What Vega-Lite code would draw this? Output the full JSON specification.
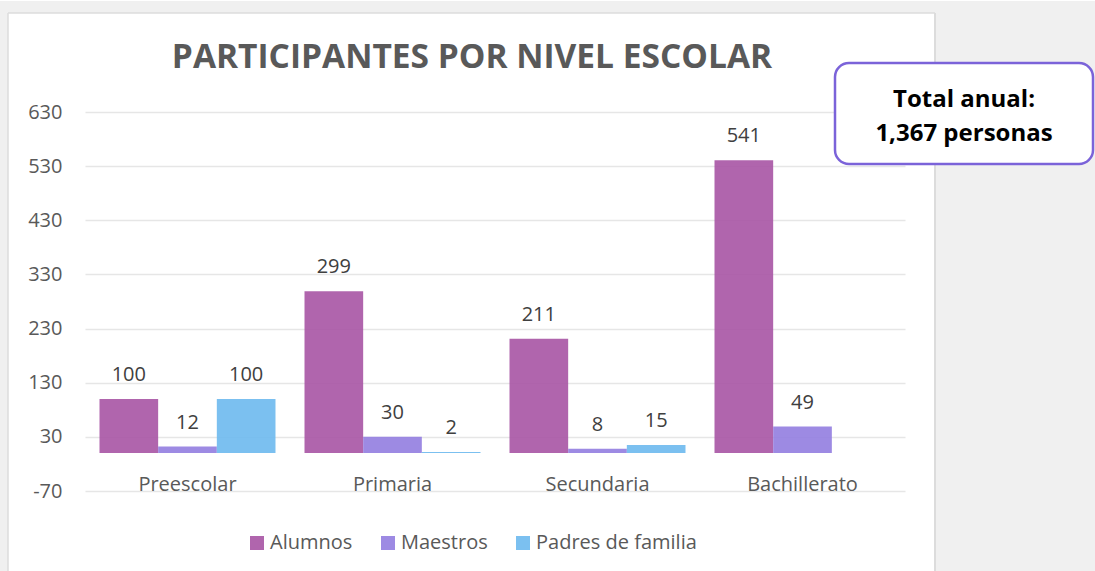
{
  "$schema": "https://vega.github.io/schema/vega-lite/v6.json",
  "background": "white",
  "padding": {"left": 0, "top": 0, "right": 0, "bottom": 0},
  "bounds": "flush",
  "spacing": 30,
  "config": {"font": "Open Sans", "view": {"stroke": null}},
  "resolve": {
    "scale": {"x": "independent", "y": "independent", "color": "independent"},
    "legend": {"color": "independent"}
  },
  "hconcat": [
    {
      "width": 820,
      "height": 379,
      "title": {
        "text": "PARTICIPANTES POR NIVEL ESCOLAR",
        "font": "Open Sans",
        "fontSize": 33.5,
        "fontWeight": "bold",
        "color": "#595959",
        "anchor": "middle",
        "frame": "group",
        "baseline": "alphabetic",
        "dx": -23,
        "offset": 1
      },
      "data": {
        "values": [
          {"nivel": "Preescolar", "serie": "Alumnos", "valor": 100},
          {"nivel": "Preescolar", "serie": "Maestros", "valor": 12},
          {"nivel": "Preescolar", "serie": "Padres de familia", "valor": 100},
          {"nivel": "Primaria", "serie": "Alumnos", "valor": 299},
          {"nivel": "Primaria", "serie": "Maestros", "valor": 30},
          {"nivel": "Primaria", "serie": "Padres de familia", "valor": 2},
          {"nivel": "Secundaria", "serie": "Alumnos", "valor": 211},
          {"nivel": "Secundaria", "serie": "Maestros", "valor": 8},
          {"nivel": "Secundaria", "serie": "Padres de familia", "valor": 15},
          {"nivel": "Bachillerato", "serie": "Alumnos", "valor": 541},
          {"nivel": "Bachillerato", "serie": "Maestros", "valor": 49}
        ]
      },
      "encoding": {
        "x": {
          "field": "nivel",
          "type": "nominal",
          "sort": ["Preescolar", "Primaria", "Secundaria", "Bachillerato"],
          "scale": {
            "domain": ["Preescolar", "Primaria", "Secundaria", "Bachillerato"],
            "paddingInner": 0.1415,
            "paddingOuter": 0.0707
          },
          "axis": {
            "title": null,
            "domain": false,
            "ticks": false,
            "grid": false,
            "labelAngle": 0,
            "labelFont": "Open Sans",
            "labelFontSize": 20,
            "labelColor": "#595959",
            "labelBaseline": "alphabetic",
            "labelPadding": -1
          }
        },
        "xOffset": {
          "field": "serie",
          "type": "nominal",
          "scale": {
            "domain": ["Alumnos", "Maestros", "Padres de familia"],
            "paddingInner": 0,
            "paddingOuter": 0
          }
        },
        "y": {
          "field": "valor",
          "type": "quantitative",
          "scale": {"domain": [-70, 630], "nice": false, "zero": false},
          "axis": {
            "title": null,
            "values": [-70, 30, 130, 230, 330, 430, 530, 630],
            "labelExpr": "replace(datum.label, '−', '-')",
            "domain": false,
            "ticks": false,
            "grid": true,
            "gridColor": "#e6e6e6",
            "gridWidth": 1.5,
            "labelFont": "Open Sans",
            "labelFontSize": 20,
            "labelColor": "#595959",
            "labelPadding": 23
          }
        }
      },
      "layer": [
        {
          "mark": {"type": "bar", "opacity": 0.9},
          "encoding": {
            "color": {
              "field": "serie",
              "type": "nominal",
              "scale": {
                "domain": ["Alumnos", "Maestros", "Padres de familia"],
                "range": ["#a754a4", "#927de0", "#6db9ee"]
              },
              "legend": {
                "title": null,
                "orient": "none",
                "legendX": 162,
                "legendY": 421,
                "direction": "horizontal",
                "symbolType": "square",
                "symbolSize": 196,
                "symbolStrokeWidth": 0,
                "labelFont": "Open Sans",
                "labelFontSize": 20,
                "labelColor": "#595959",
                "labelOffset": 3,
                "labelLimit": 400,
                "columnPadding": 25
              }
            }
          }
        },
        {
          "mark": {
            "type": "text",
            "baseline": "alphabetic",
            "align": "center",
            "dy": -18,
            "font": "Open Sans",
            "fontSize": 20,
            "color": "#404040"
          },
          "encoding": {
            "text": {"field": "valor", "type": "quantitative"}
          }
        },
        {
          "data": {"values": [{}]},
          "mark": {"type": "rule", "color": "#bfbfbf", "strokeWidth": 2},
          "encoding": {
            "x": null,
            "xOffset": null,
            "y": {"datum": 0, "type": "quantitative"}
          }
        }
      ]
    },
    {
      "width": 160,
      "height": 379,
      "data": {"values": [{}]},
      "encoding": {
        "x": {
          "datum": 0,
          "type": "quantitative",
          "scale": {"domain": [0, 160], "nice": false, "zero": false},
          "axis": null
        },
        "y": {
          "datum": 0,
          "type": "quantitative",
          "scale": {"domain": [0, 379], "reverse": true, "nice": false, "zero": false},
          "axis": null
        }
      },
      "layer": [
        {
          "mark": {"type": "rect", "fill": "#f0f0f0"},
          "encoding": {
            "x": {"datum": 0, "type": "quantitative"},
            "x2": {"datum": 160},
            "y": {"datum": -111, "type": "quantitative"},
            "y2": {"datum": 460}
          }
        },
        {
          "mark": {"type": "rect", "fill": "#f0f0f0"},
          "encoding": {
            "x": {"datum": -935, "type": "quantitative"},
            "x2": {"datum": -927},
            "y": {"datum": -111, "type": "quantitative"},
            "y2": {"datum": 460}
          }
        },
        {
          "mark": {"type": "rect", "fill": "#f0f0f0"},
          "encoding": {
            "x": {"datum": -935, "type": "quantitative"},
            "x2": {"datum": 0},
            "y": {"datum": -111, "type": "quantitative"},
            "y2": {"datum": -99}
          }
        },
        {
          "mark": {"type": "rule", "color": "#dcdcdc", "strokeWidth": 2},
          "encoding": {
            "x": {"datum": 0, "type": "quantitative"},
            "y": {"datum": -99, "type": "quantitative"},
            "y2": {"datum": 460}
          }
        },
        {
          "mark": {"type": "rule", "color": "#dcdcdc", "strokeWidth": 1.5},
          "encoding": {
            "x": {"datum": -927, "type": "quantitative"},
            "y": {"datum": -99, "type": "quantitative"},
            "y2": {"datum": 460}
          }
        },
        {
          "mark": {"type": "rule", "color": "#dcdcdc", "strokeWidth": 1.5},
          "encoding": {
            "x": {"datum": -927, "type": "quantitative"},
            "x2": {"datum": 0},
            "y": {"datum": -99, "type": "quantitative"}
          }
        },
        {
          "mark": {
            "type": "rect",
            "fill": "white",
            "stroke": "#7b63d9",
            "strokeWidth": 2.5,
            "cornerRadius": 14
          },
          "encoding": {
            "x": {"datum": -100, "type": "quantitative"},
            "x2": {"datum": 158},
            "y": {"datum": -49, "type": "quantitative"},
            "y2": {"datum": 52}
          }
        },
        {
          "mark": {
            "type": "text",
            "align": "center",
            "baseline": "alphabetic",
            "font": "Open Sans",
            "fontSize": 24,
            "fontWeight": "bold",
            "color": "#000000",
            "lineHeight": 34
          },
          "encoding": {
            "x": {"datum": 29, "type": "quantitative"},
            "y": {"datum": -5, "type": "quantitative"},
            "text": {"value": ["Total anual:", "1,367 personas"]}
          }
        }
      ]
    }
  ]
}
